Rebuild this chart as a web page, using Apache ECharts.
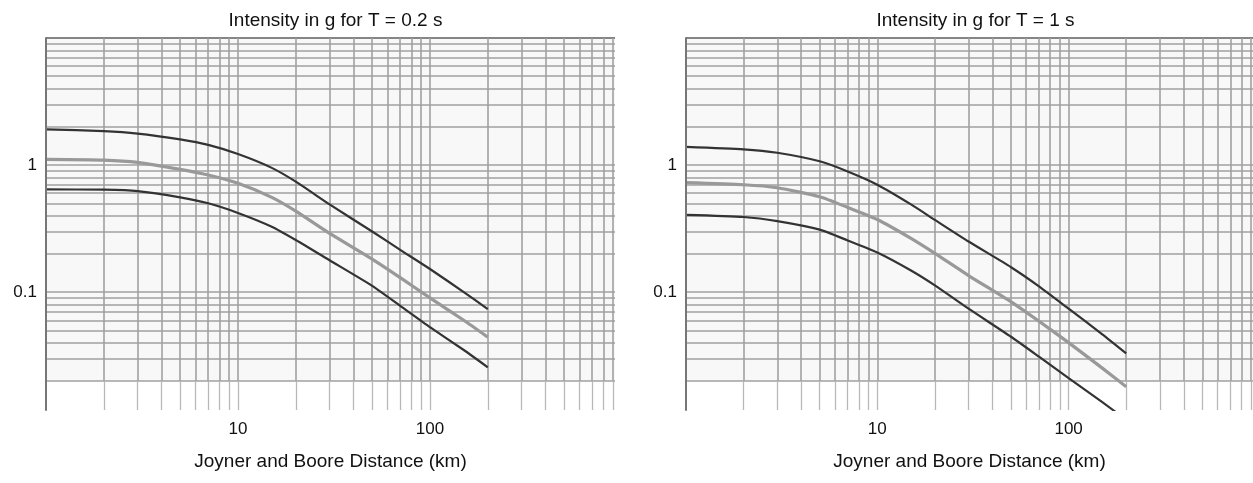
<!DOCTYPE html>
<html>
<head>
<meta charset="utf-8">
<style>
html,body{margin:0;padding:0;background:#fff;}
#c{width:1253px;height:483px;}
</style>
<script src="https://cdn.jsdelivr.net/npm/echarts@6/dist/echarts.min.js"></script>
</head>
<body>
<div id="c"></div>
<script>
// ---- data ----
const distances = [1, 2, 3, 5, 7, 10, 15, 20, 30, 50, 70, 100, 150, 200];

// T = 0.2 s
const upper02  = [1.91, 1.85, 1.77, 1.59, 1.44, 1.22, 0.95, 0.74, 0.49, 0.30, 0.215, 0.152, 0.100, 0.0735];
const median02 = [1.11, 1.095, 1.05, 0.925, 0.834, 0.718, 0.557, 0.434, 0.29, 0.182, 0.130, 0.090, 0.060, 0.0442];
const lower02  = [0.643, 0.64, 0.624, 0.557, 0.50, 0.42, 0.327, 0.257, 0.178, 0.112, 0.078, 0.053, 0.035, 0.0256];

// T = 1 s
const upper1  = [1.39, 1.33, 1.25, 1.07, 0.89, 0.70, 0.49, 0.37, 0.25, 0.157, 0.111, 0.074, 0.0465, 0.0329];
const median1 = [0.726, 0.70, 0.663, 0.563, 0.464, 0.373, 0.265, 0.202, 0.135, 0.0838, 0.059, 0.040, 0.0252, 0.018];
const lower1  = [0.405, 0.39, 0.362, 0.31, 0.255, 0.205, 0.148, 0.113, 0.074, 0.0445, 0.031, 0.021, 0.0136, 0.0099];

// axes
const xMin = 1, xMax = 920;
const yMin = 0.0118, yMax = 10;
const xTickLabels = [10, 100];
const yTickLabels = [0.1, 1];
const xGridTicks = [2,3,4,5,6,7,8,9,10,20,30,40,50,60,70,80,90,100,200,300,400,500,600,700,800,900];
const yGridTicks = [0.02,0.03,0.04,0.05,0.06,0.07,0.08,0.09,0.1,0.2,0.3,0.4,0.5,0.6,0.7,0.8,0.9,1,2,3,4,5,6,7,8,9,10];
const gridFloor = 0.02;

const titles = ['Intensity in g for T = 0.2 s', 'Intensity in g for T = 1 s'];
const xName = 'Joyner and Boore Distance (km)';

// ---- chart ----
const FONT = '"Liberation Sans", Arial, sans-serif';
const chart = echarts.init(document.getElementById('c'), null, {renderer: 'canvas'});

const grids = [
  {left: 46, top: 38, width: 569, height: 372},
  {left: 686, top: 38, width: 569, height: 372}
];

function fmt(v) {
  if (Math.abs(v - 1) < 1e-6) return '1';
  if (Math.abs(v - 0.1) < 1e-7) return '0.1';
  if (Math.abs(v - 10) < 1e-6) return '10';
  if (Math.abs(v - 100) < 1e-5) return '100';
  return '';
}

const xAxes = grids.map((g, i) => ({
  type: 'log', gridIndex: i, min: xMin, max: xMax, logBase: 10,
  name: xName, nameLocation: 'middle', nameGap: 42,
  nameTextStyle: {fontFamily: FONT, fontSize: 19, color: '#111'},
  axisLine: {show: false}, axisTick: {show: false},
  splitLine: {show: false}, minorSplitLine: {show: false},
  axisLabel: {customValues: xTickLabels, formatter: fmt, margin: 11,
    fontFamily: FONT, fontSize: 17, color: '#111'}
}));

const yAxes = grids.map((g, i) => ({
  type: 'log', gridIndex: i, min: yMin, max: yMax, logBase: 10, z: 10,
  axisLine: {show: true, lineStyle: {color: '#777', width: 2}},
  axisTick: {show: false},
  splitLine: {show: false}, minorSplitLine: {show: false},
  axisLabel: {customValues: yTickLabels, formatter: fmt, margin: 9,
    fontFamily: FONT, fontSize: 17, color: '#111'}
}));

function gridSeries(i) {
  const hLines = yGridTicks.map(v => v === yMax
    ? {yAxis: v, lineStyle: {color: '#858585', width: 2}}
    : {yAxis: v});
  const vUpper = xGridTicks.map(v => [{coord: [v, gridFloor]}, {coord: [v, yMax]}]);
  const vLower = xGridTicks.map(v => [{coord: [v, yMin], lineStyle: {color: '#b8b8b8', width: 1.3}}, {coord: [v, gridFloor]}]);
  return {
    type: 'line', xAxisIndex: i, yAxisIndex: i, data: [], z: 1, silent: true,
    animation: false,
    markArea: {
      silent: true,
      itemStyle: {color: '#f8f8f8'},
      data: [[{yAxis: gridFloor}, {yAxis: yMax}]]
    },
    markLine: {
      silent: true, animation: false, symbol: ['none', 'none'],
      label: {show: false}, emphasis: {disabled: true},
      lineStyle: {color: '#a0a0a0', width: 1.6, type: 'solid'},
      data: hLines.concat(vUpper).concat(vLower)
    }
  };
}

function curve(i, values, color, width) {
  return {
    type: 'line', xAxisIndex: i, yAxisIndex: i, z: 5,
    data: distances.map((d, k) => [d, values[k]]),
    showSymbol: false, symbol: 'none', smooth: 0.2, clip: true,
    lineStyle: {color: color, width: width}, animation: false, silent: true
  };
}

chart.setOption({
  animation: false,
  title: titles.map((t, i) => ({
    text: t, left: grids[i].left + grids[i].width / 2, top: 6, textAlign: 'center',
    textStyle: {fontFamily: FONT, fontSize: 19, fontWeight: 'normal', color: '#111'}
  })),
  grid: grids,
  xAxis: xAxes,
  yAxis: yAxes,
  series: [
    gridSeries(0),
    curve(0, upper02, '#333', 2.2),
    curve(0, median02, '#999', 3.2),
    curve(0, lower02, '#333', 2.2),
    gridSeries(1),
    curve(1, upper1, '#333', 2.2),
    curve(1, median1, '#999', 3.2),
    curve(1, lower1, '#333', 2.2)
  ]
});
</script>
</body>
</html>
